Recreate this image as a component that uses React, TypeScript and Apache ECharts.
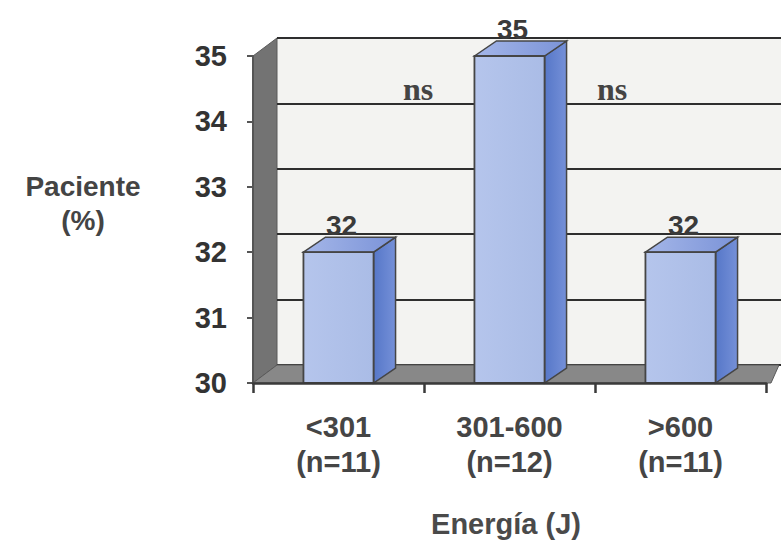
import React, { useEffect, useRef } from "react";
import * as echarts from "echarts";

const categories = ["<301\n(n=11)", "301-600\n(n=12)", ">600\n(n=11)"];
const patientPct = [32, 35, 32];
const yTicks = { min: 30, max: 35, interval: 1 };
const nsLabels = ["ns", "ns"];
const yTitle = "Paciente\n(%)";
const xTitle = "Energía (J)";

// layout constants (pixels)
const W = 781;
const H = 541;
const FL = 253, FR = 766, FT = 56, FB = 383; // front plot box
const WDX = 24, WDY = 18; // wall depth
const BDX = 22, BDY = 15; // bar depth
const SANS = "Liberation Sans, Arial, sans-serif";
const SERIF = "Liberation Serif, Times New Roman, serif";

export default function App() {
  const ref = useRef<HTMLDivElement>(null);
  useEffect(() => {
    if (!ref.current) return;
    const chart = echarts.init(ref.current, null, { renderer: "svg" });
    const option: any = {
      animation: false,
      backgroundColor: "#ffffff",
      grid: [
        { left: FL + WDX, right: 0, top: FT - WDY, bottom: H - (FB - WDY), containLabel: false },
        { left: FL, right: W - FR, top: FT, bottom: H - FB, containLabel: false },
      ],
      xAxis: [
        { type: "category", gridIndex: 0, data: categories, show: false },
        {
          type: "category",
          gridIndex: 1,
          data: categories,
          axisLine: { show: true, lineStyle: { color: "#3a3a3a", width: 2.5 } },
          axisTick: { show: true, length: 10, lineStyle: { color: "#3a3a3a", width: 2.5 } },
          axisLabel: {
            margin: 26,
            color: "#454545",
            fontFamily: SANS,
            fontWeight: "bold",
            fontSize: 29,
            lineHeight: 35,
          },
          splitLine: { show: false },
          z: 5,
        },
      ],
      yAxis: [
        {
          type: "value",
          gridIndex: 0,
          min: yTicks.min,
          max: yTicks.max,
          interval: yTicks.interval,
          axisLine: { show: false },
          axisTick: { show: false },
          axisLabel: { show: false },
          splitLine: { show: true, lineStyle: { color: "#2e2e2e", width: 1.8 } },
        },
        {
          type: "value",
          gridIndex: 1,
          min: yTicks.min,
          max: yTicks.max,
          interval: yTicks.interval,
          axisLine: { show: true, lineStyle: { color: "#555555", width: 2 } },
          axisTick: { show: true, length: 6, lineStyle: { color: "#555555", width: 2 } },
          axisLabel: {
            margin: 26,
            color: "#333333",
            fontFamily: SANS,
            fontWeight: "bold",
            fontSize: 29,
          },
          splitLine: { show: false },
        },
      ],
      graphic: [
        {
          type: "rect",
          z: -10,
          shape: { x: FL + WDX, y: FT - WDY, width: W - (FL + WDX), height: FB - FT },
          style: { fill: "#f3f3f1" },
        },
        {
          type: "polygon",
          z: -9,
          shape: { points: [[FL, FT], [FL + WDX, FT - WDY], [FL + WDX, FB - WDY], [FL, FB]] },
          style: { fill: "#737373", stroke: "#5a5a5a", lineWidth: 1 },
        },
        {
          type: "polygon",
          z: 1,
          shape: { points: [[FL, FB], [FL + WDX, FB - WDY], [W - 2, FB - WDY], [FR + 5, FB]] },
          style: { fill: "#888888", stroke: "#5a5a5a", lineWidth: 1 },
        },
        {
          type: "text",
          z: 10,
          style: {
            text: yTitle,
            x: 83,
            y: 203,
            align: "center",
            verticalAlign: "middle",
            font: "bold 28px " + SANS,
            lineHeight: 34,
            fill: "#444444",
          },
        },
        {
          type: "text",
          z: 10,
          style: {
            text: xTitle,
            x: 506,
            y: 524,
            align: "center",
            verticalAlign: "middle",
            font: "bold 29px " + SANS,
            fill: "#4a4a4a",
          },
        },
        {
          type: "text",
          z: 10,
          style: {
            text: nsLabels[0],
            x: 418,
            y: 89,
            align: "center",
            verticalAlign: "middle",
            font: "bold 32px " + SERIF,
            fill: "#444444",
          },
        },
        {
          type: "text",
          z: 10,
          style: {
            text: nsLabels[1],
            x: 612,
            y: 89,
            align: "center",
            verticalAlign: "middle",
            font: "bold 32px " + SERIF,
            fill: "#444444",
          },
        },
      ],
      series: [
        {
          type: "custom",
          xAxisIndex: 1,
          yAxisIndex: 1,
          z: 3,
          data: patientPct.map((v, i) => [i, v]),
          encode: { x: 0, y: 1 },
          renderItem: (params: any, api: any) => {
            const idx = api.value(0);
            const v = api.value(1);
            const top = api.coord([idx, v]);
            const base = api.coord([idx, yTicks.min]);
            const w = api.size([1, 0])[0] * 0.41;
            const x0 = top[0] - w / 2;
            const x1 = top[0] + w / 2;
            const y0 = top[1];
            const yb = base[1];
            const stroke = "#454545";
            return {
              type: "group",
              children: [
                {
                  type: "polygon",
                  shape: { points: [[x1, y0], [x1 + BDX, y0 - BDY], [x1 + BDX, yb - BDY], [x1, yb]] },
                  style: {
                    fill: new echarts.graphic.LinearGradient(0, 0, 1, 0, [
                      { offset: 0, color: "#5677c8" },
                      { offset: 1, color: "#7590d8" },
                    ]),
                    stroke,
                    lineWidth: 1.5,
                  },
                },
                {
                  type: "polygon",
                  shape: { points: [[x0, y0], [x0 + BDX, y0 - BDY], [x1 + BDX, y0 - BDY], [x1, y0]] },
                  style: {
                    fill: new echarts.graphic.LinearGradient(0, 0, 1, 0, [
                      { offset: 0, color: "#a4b6e8" },
                      { offset: 1, color: "#7b93d8" },
                    ]),
                    stroke,
                    lineWidth: 1.5,
                  },
                },
                {
                  type: "rect",
                  shape: { x: x0, y: y0, width: w, height: yb - y0 },
                  style: {
                    fill: new echarts.graphic.LinearGradient(0, 0, 1, 0, [
                      { offset: 0, color: "#b5c5ec" },
                      { offset: 1, color: "#aabce6" },
                    ]),
                    stroke,
                    lineWidth: 1.8,
                  },
                },
                {
                  type: "text",
                  style: {
                    text: String(v),
                    x: top[0] + 3,
                    y: y0 - BDY + 2,
                    align: "center",
                    verticalAlign: "bottom",
                    font: "bold 28px " + SANS,
                    fill: "#3a3a3a",
                  },
                },
              ],
            };
          },
        },
      ],
    };
    chart.setOption(option);
    return () => chart.dispose();
  }, []);
  return (
    <div
      ref={ref}
      style={{ position: "fixed", left: 0, top: 0, width: W, height: H, background: "#fff" }}
    />
  );
}
